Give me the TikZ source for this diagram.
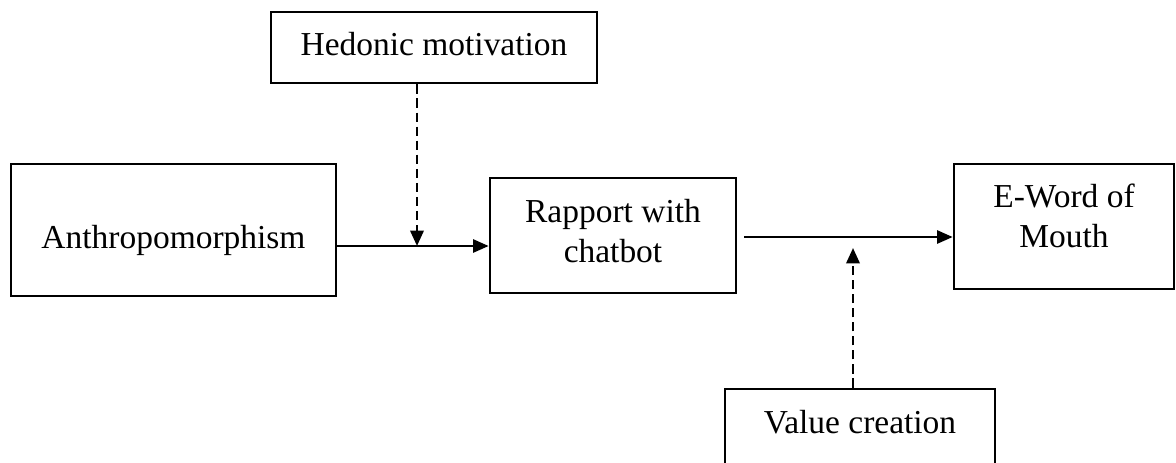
\documentclass[tikz,border=0pt]{standalone}
\usepackage{fontspec}
\setmainfont{Liberation Serif}
\usepackage{tikz}
\usetikzlibrary{arrows.meta, positioning}

\begin{document}
\begin{tikzpicture}[
  x=0.025cm, y=-0.025cm,
  >={Triangle[length=11pt,width=9.5pt]},
  box/.style={draw, line width=2pt, align=center, inner sep=0pt, font=\fontsize{23.8}{28.5}\selectfont},
  arrow/.style={->, line width=1.1pt},
  modarrow/.style={->, line width=1.8pt, dash pattern=on 6.5pt off 3.5pt}
]
\clip (0,0) rectangle (1176,462);

\node[box, minimum width=8.15cm, minimum height=1.775cm] (hed) at (434,47.5) {Hedonic motivation\\[-22.8pt]};
\node[box, minimum width=8.125cm, minimum height=3.3cm, text height=32pt] (anthro) at (173.5,230) {Anthropomorphism};
\node[box, minimum width=6.15cm, minimum height=2.875cm] (rapport) at (613,235.5) {Rapport with\\ chatbot\\[-21.5pt]};
\node[box, minimum width=5.5cm, minimum height=3.125cm] (eword) at (1064,226.5) {E-Word of\\ Mouth\\[-0.45cm]};
\node[box, minimum width=6.75cm, minimum height=2cm] (value) at (860,429) {Value creation\\[-18.5pt]};

% moderation points on the paths
\coordinate (m1) at (417,246);
\coordinate (m2) at (853,237);
\coordinate (m3) at (853,248);

\draw[arrow] (anthro.east |- m1) -- (rapport.west |- m1);
\draw[arrow] ([xshift=0.17cm]rapport.east |- m2) -- (eword.west |- m2);

\draw[modarrow] (hed.south -| m1) -- (m1);
\draw[modarrow] (value.north -| m3) -- (m3);

\end{tikzpicture}
\end{document}
